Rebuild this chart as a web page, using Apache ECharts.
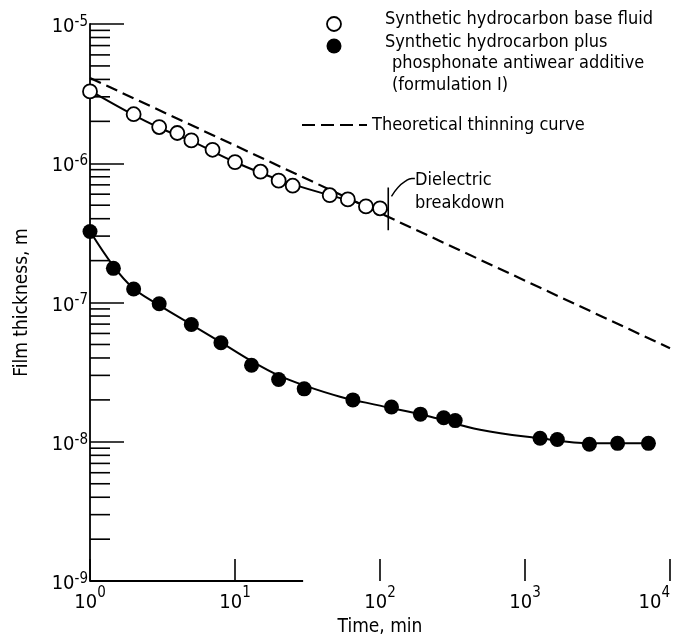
<!DOCTYPE html>
<html>
<head>
<meta charset="utf-8">
<title>Film thickness vs time</title>
<script src="https://cdn.jsdelivr.net/npm/echarts@6/dist/echarts.min.js"></script>
<style>
  html, body { margin: 0; padding: 0; background: #fff; }
  #chart { width: 674px; height: 642px; }
</style>
</head>
<body>
<div id="chart"></div>
<script>
// synthetic hydrocarbon base fluid (open circles)
var baseTime = [1, 2, 3, 4, 5, 7, 10, 15, 20, 25, 45, 60, 80, 100];
var baseFilm = [3.28e-6, 2.25e-6, 1.82e-6, 1.65e-6, 1.46e-6, 1.25e-6, 1.02e-6, 8.7e-7, 7.5e-7, 6.9e-7, 5.9e-7, 5.5e-7, 4.9e-7, 4.75e-7];
var baseCurveTime = [1, 1.95, 2.9, 4.9, 9.8, 19.8, 44, 83, 113];
var baseCurveFilm = [3.32e-6, 2.25e-6, 1.83e-6, 1.46e-6, 1.03e-6, 7.66e-7, 5.93e-7, 4.99e-7, 4.6e-7];

// base fluid plus phosphonate additive (filled circles)
var addTime = [1, 1.45, 2, 3, 5, 8, 13, 20, 30, 65, 120, 190, 275, 330, 1270, 1670, 2780, 4350, 7100];
var addFilm = [3.24e-7, 1.76e-7, 1.25e-7, 9.8e-8, 6.95e-8, 5.15e-8, 3.55e-8, 2.8e-8, 2.4e-8, 2.0e-8, 1.78e-8, 1.58e-8, 1.49e-8, 1.42e-8, 1.06e-8, 1.04e-8, 9.6e-9, 9.75e-9, 9.75e-9];
var addCurveTime = [1, 1.45, 1.95, 2.9, 4.9, 7.9, 12.9, 19.8, 31, 53, 100, 220, 490, 1270, 2800, 7050];
var addCurveFilm = [3.25e-7, 1.83e-7, 1.29e-7, 9.77e-8, 7.03e-8, 5.22e-8, 3.82e-8, 3.01e-8, 2.51e-8, 2.11e-8, 1.82e-8, 1.52e-8, 1.22e-8, 1.06e-8, 9.75e-9, 9.75e-9];

// theoretical thinning curve (dashed)
var theoryTime = [1, 10000];
var theoryFilm = [4.1e-6, 4.7e-8];

// dielectric breakdown marker and its leader
var breakTime = [114, 114];
var breakFilm = [6.71e-7, 3.3e-7];
var leaderTime = [120, 133, 149, 166, 174];
var leaderFilm = [5.79e-7, 6.71e-7, 7.41e-7, 7.78e-7, 7.78e-7];

// short visible piece of the time axis line
var xAxisStubTime = [1, 29.5];
var xAxisStubFilm = [1e-9, 1e-9];

// minor ticks on the thickness axis
var minorTicks = [];
[1e-9, 1e-8, 1e-7, 1e-6].forEach(function (d) {
  [2, 3, 4, 5, 6, 7, 8, 9].forEach(function (m) { minorTicks.push(m * d); });
});

var FONT = '"DejaVu Sans Condensed", "Liberation Sans Narrow", sans-serif';

function zip(xs, ys) {
  return xs.map(function (x, i) { return [x, ys[i]]; });
}
function powLabel(v) {
  return '{b|10}{s|' + Math.round(Math.log10(v)) + '}';
}
function legendText(str, x, y) {
  return {
    type: 'text',
    style: { text: str, x: x, y: y, verticalAlign: 'middle', fill: '#000', font: '18px ' + FONT }
  };
}

var chart = echarts.init(document.getElementById('chart'));
var option = {
  backgroundColor: '#fff',
  animation: false,
  grid: { left: 90, right: 4, top: 24, bottom: 59 },
  xAxis: {
    type: 'log',
    logBase: 10,
    min: 1,
    max: 10000,
    name: 'Time, min',
    nameLocation: 'middle',
    nameGap: 34,
    nameTextStyle: { fontFamily: FONT, fontSize: 19, color: '#000' },
    axisLine: { show: false },
    axisTick: { show: true, inside: true, length: 22, lineStyle: { color: '#000', width: 1.6 } },
    minorTick: { show: false },
    splitLine: { show: false },
    axisLabel: {
      margin: 2,
      alignMaxLabel: 'right',
      formatter: powLabel,
      rich: {
        b: { fontFamily: FONT, fontSize: 20, color: '#000', padding: [10, 0, 0, 0] },
        s: { fontFamily: FONT, fontSize: 15, color: '#000', padding: [0, 0, 10, 0] }
      }
    }
  },
  yAxis: {
    type: 'log',
    logBase: 10,
    min: 1e-9,
    max: 1e-5,
    name: 'Film thickness, m',
    nameLocation: 'middle',
    nameGap: 58,
    nameTextStyle: { fontFamily: FONT, fontSize: 19, color: '#000' },
    axisLine: { show: true, lineStyle: { color: '#000', width: 1.8 } },
    axisTick: { show: true, inside: true, length: 34, lineStyle: { color: '#000', width: 1.6 } },
    minorTick: { show: false },
    splitLine: { show: false },
    axisLabel: {
      margin: 2,
      formatter: powLabel,
      rich: {
        b: { fontFamily: FONT, fontSize: 20, color: '#000', padding: [6, 0, 0, 0] },
        s: { fontFamily: FONT, fontSize: 15, color: '#000', padding: [0, 0, 4, 0] }
      }
    }
  },
  series: [
    {
      name: 'minor ticks',
      type: 'custom',
      clip: false,
      silent: true,
      data: minorTicks.map(function (v) { return [1, v]; }),
      renderItem: function (params, api) {
        var p = api.coord([api.value(0), api.value(1)]);
        return {
          type: 'line',
          shape: { x1: p[0], y1: p[1], x2: p[0] + 20, y2: p[1] },
          style: { stroke: '#000', lineWidth: 1.6 }
        };
      }
    },
    {
      name: 'axis stub',
      type: 'line',
      clip: false,
      silent: true,
      showSymbol: false,
      data: zip(xAxisStubTime, xAxisStubFilm),
      lineStyle: { color: '#000', width: 2 }
    },
    {
      name: 'Theoretical thinning curve',
      type: 'line',
      showSymbol: false,
      data: zip(theoryTime, theoryFilm),
      lineStyle: { color: '#000', width: 2.2, type: [12, 6] }
    },
    {
      name: 'base curve',
      type: 'line',
      smooth: 0.4,
      showSymbol: false,
      data: zip(baseCurveTime, baseCurveFilm),
      lineStyle: { color: '#000', width: 2 }
    },
    {
      name: 'additive curve',
      type: 'line',
      smooth: 0.4,
      showSymbol: false,
      data: zip(addCurveTime, addCurveFilm),
      lineStyle: { color: '#000', width: 2 }
    },
    {
      name: 'breakdown',
      type: 'line',
      showSymbol: false,
      data: zip(breakTime, breakFilm),
      lineStyle: { color: '#000', width: 1.6 }
    },
    {
      name: 'leader',
      type: 'line',
      smooth: 0.5,
      showSymbol: false,
      data: zip(leaderTime, leaderFilm),
      lineStyle: { color: '#000', width: 1.4 }
    },
    {
      name: 'Synthetic hydrocarbon base fluid',
      type: 'scatter',
      symbol: 'circle',
      symbolSize: 14,
      data: zip(baseTime, baseFilm),
      itemStyle: { color: '#fff', borderColor: '#000', borderWidth: 1.8, opacity: 1 },
      z: 5
    },
    {
      name: 'Synthetic hydrocarbon plus phosphonate antiwear additive',
      type: 'scatter',
      symbol: 'circle',
      symbolSize: 15,
      data: zip(addTime, addFilm),
      itemStyle: { color: '#000', opacity: 1 },
      z: 5
    }
  ],
  graphic: [
    { type: 'circle', shape: { cx: 334, cy: 24, r: 7 }, style: { fill: '#fff', stroke: '#000', lineWidth: 1.8 } },
    { type: 'circle', shape: { cx: 334, cy: 46, r: 7.5 }, style: { fill: '#000' } },
    legendText('Synthetic hydrocarbon base fluid', 385, 19),
    legendText('Synthetic hydrocarbon plus', 385, 42),
    legendText('phosphonate antiwear additive', 392, 63),
    legendText('(formulation I)', 392, 85),
    { type: 'line', shape: { x1: 302, y1: 125, x2: 367, y2: 125 }, style: { stroke: '#000', lineWidth: 2.2, lineDash: [13, 6] } },
    legendText('Theoretical thinning curve', 372, 125),
    legendText('Dielectric', 415, 180),
    legendText('breakdown', 415, 203)
  ]
};
chart.setOption(option);
</script>
</body>
</html>
